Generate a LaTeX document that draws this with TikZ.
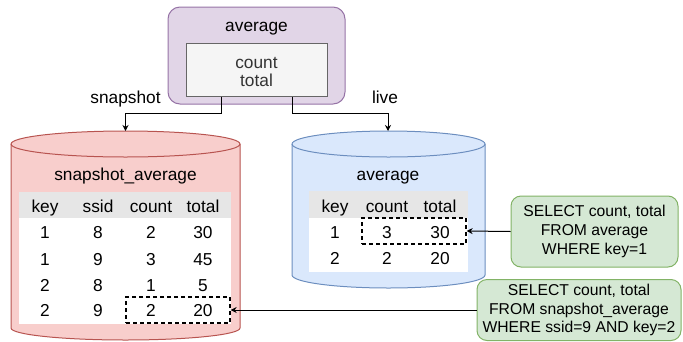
\documentclass[tikz,border=0pt]{standalone}
\usepackage{fontspec}
\setmainfont{Liberation Sans}
\usetikzlibrary{arrows.meta,calc}
\definecolor{purplefill}{HTML}{E1D5E7}
\definecolor{purplestroke}{HTML}{9673A6}
\definecolor{innerfill}{HTML}{F5F5F5}
\definecolor{innerstroke}{HTML}{666666}
\definecolor{redfill}{HTML}{F8CECC}
\definecolor{redstroke}{HTML}{B85450}
\definecolor{bluefill}{HTML}{DAE8FC}
\definecolor{bluestroke}{HTML}{6C8EBF}
\definecolor{greenfill}{HTML}{D5E8D4}
\definecolor{greenstroke}{HTML}{82B366}
\definecolor{headfill}{HTML}{E6E6E6}
\definecolor{softtext}{HTML}{333333}
\begin{document}
\begin{tikzpicture}[x=1pt,y=1pt,
  txt/.style={font=\fontsize{17.3}{20}\selectfont, inner sep=0pt, text height=12.4pt, text depth=0pt},
  sqlbox/.style={draw=greenstroke, fill=greenfill, line width=1pt, rounded corners=10pt, align=center,
     font=\fontsize{15.7}{18.8}\selectfont, inner sep=0pt},
  dashbox/.style={draw=black, dash pattern=on 4pt off 3pt, line width=1.3pt, inner sep=0pt},
  conn/.style={draw=black, line width=1pt, -{Stealth[length=6pt,width=6pt]}},
]
\useasboundingbox (0,0) rectangle (683,-341);

% ---- top "average" object
\node[draw=purplestroke, fill=purplefill, line width=1pt, rounded corners=12pt,
      minimum width=177pt, minimum height=97pt, inner sep=0pt] (avgbox) at (256.5,-55.5) {};
\node[txt] (avgtitle) at (256.5,-25) {average};
\node[draw=innerstroke, fill=innerfill, line width=1pt, minimum width=141pt, minimum height=53pt, inner sep=0pt] (inner) at (256.5,-69.5) {};
\node[txt, text=softtext] (icount) at (256.5,-62) {count};
\node[txt, text=softtext] (itotal) at (256.5,-80) {total};

% ---- red cylinder (snapshot_average)
\path[draw=redstroke, fill=redfill, line width=1pt]
  (11,-144) -- (11,-328) arc[start angle=180, end angle=360, x radius=114.5pt, y radius=12pt]
  -- (240,-144) arc[start angle=0, end angle=180, x radius=114.5pt, y radius=13pt] -- cycle;
\draw[redstroke, line width=1pt] (11,-144) arc[start angle=180, end angle=360, x radius=114.5pt, y radius=13pt];
\coordinate (redtop) at (125.5,-131);
\node[txt] (stitle) at (125.5,-174) {snapshot\_average};
\fill[white] (19,-192) rectangle (231,-324);
\fill[headfill] (19,-192) rectangle (231,-218);
\foreach \x/\t in {45/key,98/ssid,151/count,203/total}{
  \node[txt] (sh-\t) at (\x,-206) {\t};
}
\foreach \y/\a/\b/\c/\d [count=\r] in {232/1/8/2/30, 259/1/9/3/45, 285.5/2/8/1/5, 310/2/9/2/20}{
  \node[txt] (s\r-key) at (45,-\y) {\a};
  \node[txt] (s\r-ssid) at (98,-\y) {\b};
  \node[txt] (s\r-count) at (151,-\y) {\c};
  \node[txt] (s\r-total) at (203,-\y) {\d};
}
\node[dashbox, minimum width=104pt, minimum height=26pt] (dash1) at (178,-310) {};

% ---- blue cylinder (average)
\path[draw=bluestroke, fill=bluefill, line width=1pt]
  (292,-144) -- (292,-275) arc[start angle=180, end angle=360, x radius=96.5pt, y radius=13pt]
  -- (485,-144) arc[start angle=0, end angle=180, x radius=96.5pt, y radius=13pt] -- cycle;
\draw[bluestroke, line width=1pt] (292,-144) arc[start angle=180, end angle=360, x radius=96.5pt, y radius=13pt];
\coordinate (bluetop) at (388,-131);
\node[txt] (btitle) at (388,-174) {average};
\fill[white] (309,-191) rectangle (468,-272);
\fill[headfill] (309,-191) rectangle (468,-218);
\foreach \x/\t in {335/key,387/count,440/total}{
  \node[txt] (bh-\t) at (\x,-206) {\t};
}
\foreach \y/\a/\b/\c [count=\r] in {232/1/3/30, 258.5/2/2/20}{
  \node[txt] (b\r-key) at (335,-\y) {\a};
  \node[txt] (b\r-count) at (387,-\y) {\b};
  \node[txt] (b\r-total) at (440,-\y) {\c};
}
\node[dashbox, minimum width=104pt, minimum height=26pt] (dash2) at (414,-231) {};

% ---- query boxes
\node[sqlbox, minimum width=167pt, minimum height=71pt] (q1) at (594.5,-231.5)
  {SELECT count, total\\FROM average\\WHERE key=1};
\node[sqlbox, minimum width=204pt, minimum height=61pt] (q2) at (579,-310)
  {SELECT count, total\\FROM snapshot\_average\\WHERE ssid=9 AND key=2};

% ---- connectors
\draw[conn] ($(inner.south west)+(36,0)$) -- ++(0,-17) -| (redtop);
\draw[conn] ($(inner.south east)+(-35,0)$) -- ++(0,-17) -| (bluetop);
\node[txt] (lsnap) at (125.5,-97) {snapshot};
\node[txt] (llive) at (385,-97) {live};
\draw[conn] (q1.west) -- (dash2.east);
\draw[conn] (q2.west) -- (dash1.east);
\end{tikzpicture}
\end{document}
